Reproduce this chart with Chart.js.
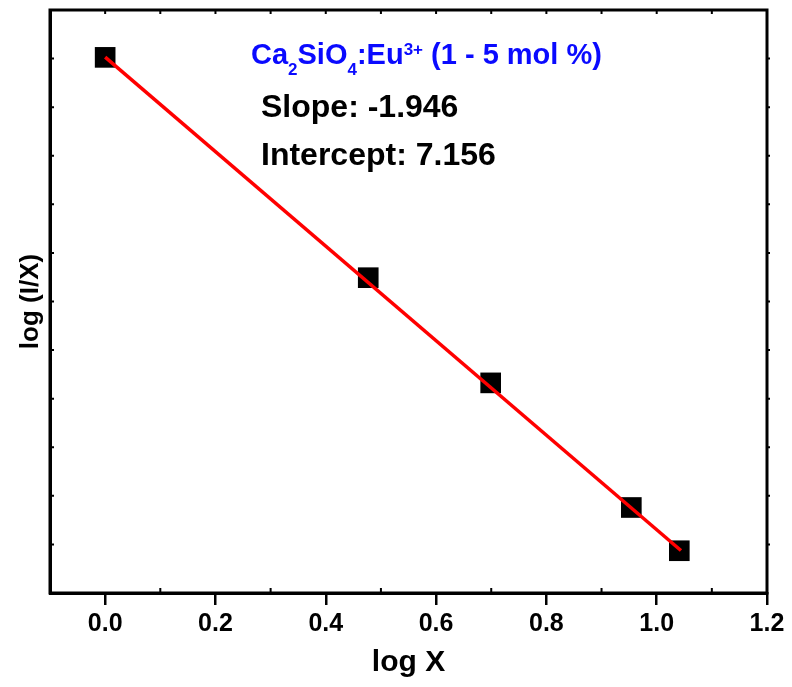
<!DOCTYPE html>
<html>
<head>
<meta charset="utf-8">
<script src="https://cdn.jsdelivr.net/npm/chart.js@4.4.1/dist/chart.umd.min.js"></script>
<style>
  html, body { margin: 0; padding: 0; background: #fff; }
  #wrap { width: 792px; height: 687px; }
</style>
</head>
<body>
<div id="wrap"><canvas id="chart" width="792" height="687"></canvas></div>
<script>
// data
const logX = [0, 0.477, 0.699, 0.954, 1.041];
const logIX = [7.155, 6.248, 5.815, 5.302, 5.124];
// linear fit line (slope -1.946, intercept 7.156)
const fitX = [0, 1.044];
const fitY = [7.156, 5.125];

const xTicks = [0, 0.2, 0.4, 0.6, 0.8, 1.0, 1.2];
const xMinor = [0.1, 0.3, 0.5, 0.7, 0.9, 1.1];
const xTopTicks = [0, 0.1, 0.2, 0.3, 0.4, 0.5, 0.6, 0.7, 0.8, 0.9, 1.0, 1.1];
const yTicks = [5.15, 5.35, 5.55, 5.75, 5.95, 6.15, 6.35, 6.55, 6.75, 6.95, 7.15];

const titleText = ['Ca', '2', 'SiO', '4', ':Eu', '3+', ' (1 - 5 mol %)'];
const slopeText = 'Slope: -1.946';
const interceptText = 'Intercept: 7.156';

const FONT = "'Liberation Sans', Arial, Helvetica, sans-serif";
Chart.defaults.font.family = FONT;
Chart.defaults.color = '#000';

// frame, small inside ticks and the text labels
const framePlugin = {
  id: 'frame',
  afterDraw(chart) {
    const { ctx, chartArea: a, scales: { x, y } } = chart;
    ctx.save();
    ctx.strokeStyle = '#000';
    ctx.lineWidth = 3;
    ctx.strokeRect(a.left, a.top, a.right - a.left, a.bottom - a.top);

    ctx.lineWidth = 2;
    ctx.beginPath();
    xMinor.forEach(v => {
      const px = x.getPixelForValue(v);
      ctx.moveTo(px, a.bottom);
      ctx.lineTo(px, a.bottom - 5);
    });
    xTopTicks.forEach(v => {
      const px = x.getPixelForValue(v);
      ctx.moveTo(px, a.top);
      ctx.lineTo(px, a.top + 4);
    });
    yTicks.forEach(v => {
      const py = y.getPixelForValue(v);
      ctx.moveTo(a.left, py);
      ctx.lineTo(a.left + 4, py);
      ctx.moveTo(a.right, py);
      ctx.lineTo(a.right + 3, py);
    });
    ctx.stroke();

    // formula label with sub/superscripts
    ctx.fillStyle = '#0a0aff';
    ctx.textBaseline = 'alphabetic';
    ctx.textAlign = 'left';
    const parts = [
      { t: titleText[0], s: 29, dy: 0 },
      { t: titleText[1], s: 17, dy: 11 },
      { t: titleText[2], s: 29, dy: 0 },
      { t: titleText[3], s: 17, dy: 11 },
      { t: titleText[4], s: 29, dy: 0 },
      { t: titleText[5], s: 17, dy: -9 },
      { t: titleText[6], s: 29, dy: 0 }
    ];
    let tx = 251;
    parts.forEach(p => {
      ctx.font = 'bold ' + p.s + 'px ' + FONT;
      ctx.fillText(p.t, tx, 63.5 + p.dy);
      tx += ctx.measureText(p.t).width;
    });

    ctx.fillStyle = '#000';
    ctx.font = 'bold 32px ' + FONT;
    ctx.fillText(slopeText, 261, 116.5);
    ctx.fillText(interceptText, 261, 164.5);
    ctx.restore();
  }
};

new Chart(document.getElementById('chart'), {
  type: 'scatter',
  data: {
    datasets: [
      {
        type: 'line',
        label: 'Linear fit',
        data: fitX.map((v, i) => ({ x: v, y: fitY[i] })),
        borderColor: '#ff0000',
        borderWidth: 3.5,
        pointRadius: 0,
        fill: false,
        order: 0
      },
      {
        label: 'log (I/X)',
        data: logX.map((v, i) => ({ x: v, y: logIX[i] })),
        pointStyle: 'rect',
        pointRadius: 14.6,
        pointBackgroundColor: '#000',
        pointBorderWidth: 0,
        showLine: false,
        order: 1
      }
    ]
  },
  options: {
    responsive: false,
    animation: false,
    events: [],
    layout: { autoPadding: false, padding: { top: 10, right: 25, left: 0, bottom: 0 } },
    plugins: {
      legend: { display: false },
      tooltip: { enabled: false }
    },
    scales: {
      x: {
        type: 'linear',
        min: -0.1,
        max: 1.2,
        afterBuildTicks: s => { s.ticks = xTicks.map(v => ({ value: v })); },
        afterFit: s => { s.height = 94; },
        ticks: {
          font: { size: 25, weight: 'bold' },
          color: '#000',
          padding: 4,
          maxRotation: 0,
          callback: v => Number(v).toFixed(1)
        },
        grid: {
          drawOnChartArea: false,
          drawTicks: true,
          tickLength: 12,
          color: '#000',
          lineWidth: 2.5
        },
        border: { display: true, color: '#000', width: 3 },
        title: {
          display: true,
          text: 'log X',
          font: { size: 30, weight: 'bold' },
          color: '#000',
          padding: { top: 0, bottom: 6 }
        }
      },
      y: {
        type: 'linear',
        min: 4.95,
        max: 7.35,
        afterFit: s => { s.width = 50; },
        ticks: { display: false },
        grid: { display: false },
        border: { display: true, color: '#000', width: 3 },
        title: {
          display: true,
          text: 'log (I/X)',
          font: { size: 26, weight: 'bold' },
          color: '#000',
          padding: { top: 15, bottom: 0 }
        }
      }
    }
  },
  plugins: [framePlugin]
});
</script>
</body>
</html>
